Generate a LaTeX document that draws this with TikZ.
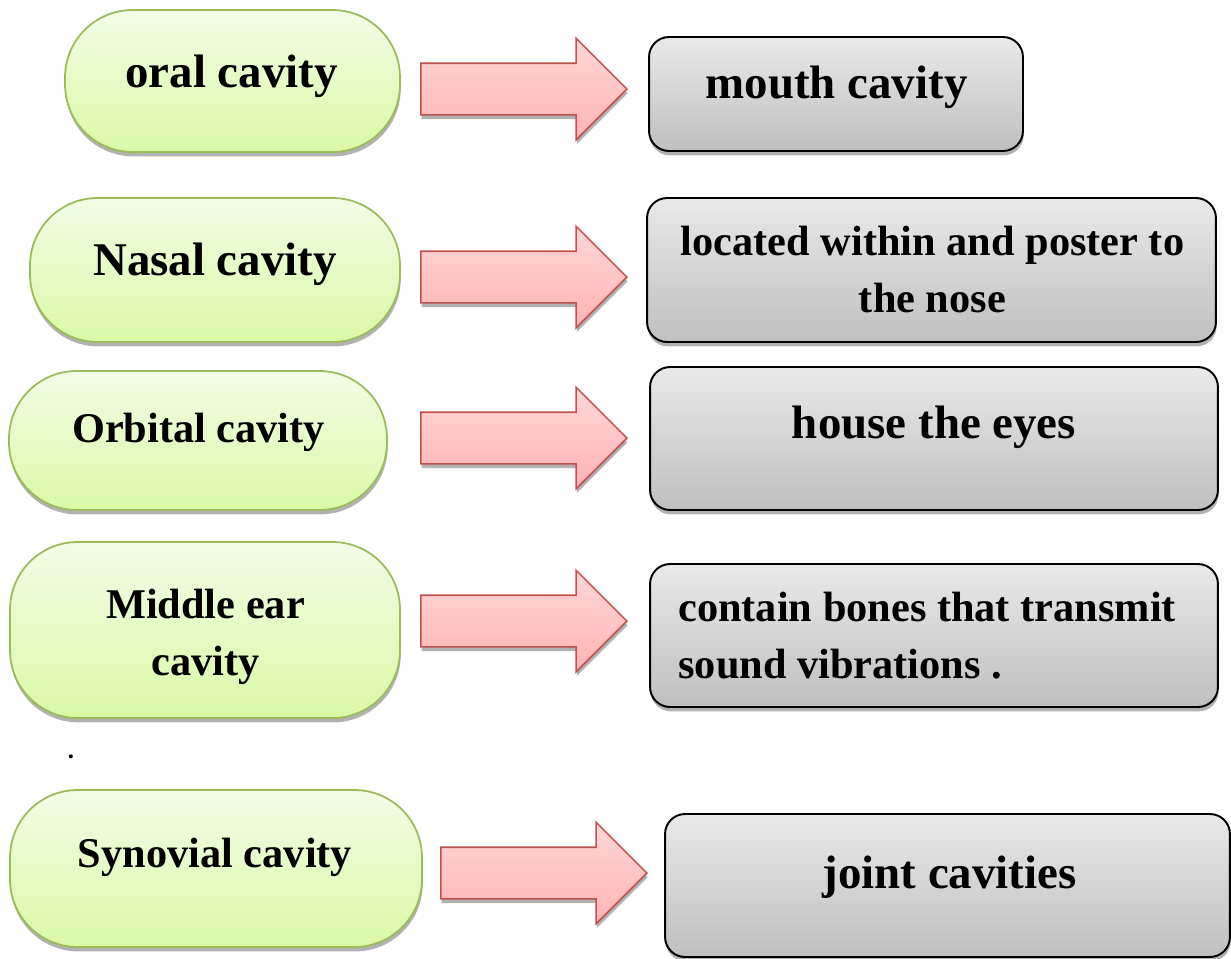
\documentclass[tikz,border=0pt]{standalone}
\usepackage{fontspec}
\setmainfont{Liberation Serif}
\usepackage{xcolor}
\usetikzlibrary{shapes.arrows,shadows}

\definecolor{cavtop}{HTML}{F3FCE6}
\definecolor{cavbot}{HTML}{D9F9A6}
\definecolor{cavline}{HTML}{9BBB59}
\definecolor{arrtop}{HTML}{FFD6D6}
\definecolor{arrbot}{HTML}{FFB3B3}
\definecolor{arrline}{HTML}{C0504D}
\definecolor{desctop}{HTML}{E9E9E9}
\definecolor{descbot}{HTML}{BFBFBF}

\begin{document}
\begin{tikzpicture}[
    x=0.02cm, y=-0.02cm,
    shade/.style={drop shadow={shadow xshift=0.4pt, shadow yshift=-2.5pt,
                  opacity=0.3, fill=black}},
    cavbox/.style={draw=cavline, line width=1pt, rounded corners=1.35cm,
                   top color=cavtop, bottom color=cavbot, shade},
    descbox/.style={draw=black, line width=1.1pt, rounded corners=0.4cm,
                    top color=desctop, bottom color=descbot, shade},
    blockarr/.style={single arrow, draw=arrline, line width=0.9pt,
                     top color=arrtop, bottom color=arrbot, shade,
                     inner xsep=0pt, inner ysep=0.5cm,
                     minimum height=4.12cm, single arrow head extend=0.5cm,
                     single arrow head indent=0pt, anchor=tip},
    bigtxt/.style={font=\fontsize{26.7}{32.4}\selectfont\bfseries,
                   inner sep=0pt, anchor=base, align=center},
    smalltxt/.style={font=\fontsize{24.1}{32.4}\selectfont\bfseries,
                     inner sep=0pt, anchor=base, align=center}
  ]
    \useasboundingbox (0,0) rectangle (1231,958);

    % left column
    \node[cavbox, minimum width=6.7cm, minimum height=2.84cm] (oral) at (232.5,81) {};
    \node[cavbox, minimum width=7.4cm, minimum height=2.88cm] (nasal) at (215,270) {};
    \node[cavbox, minimum width=7.56cm, minimum height=2.78cm] (orbital) at (198,440.5) {};
    \node[cavbox, minimum width=7.8cm, minimum height=3.52cm] (middle) at (205,630) {};
    \node[cavbox, minimum width=8.24cm, minimum height=3.14cm] (synovial) at (216,868.5) {};

    % (base of a two-line node is its last line)
    \node[bigtxt] (oral-t) at (231.5,87) {oral cavity};
    \node[bigtxt] (nasal-t) at (215,275) {Nasal cavity};
    \node[smalltxt] (orbital-t) at (198.5,442) {Orbital cavity};
    \node[smalltxt] (middle-t) at (205.5,675) {Middle ear\\cavity};
    \node[smalltxt] (synovial-t) at (215,867) {Synovial cavity};
    \node[font=\fontsize{14}{16}\selectfont\bfseries, inner sep=0pt, anchor=base] (dot) at (71,758) {.};

    % right column
    \node[descbox, minimum width=7.48cm, minimum height=2.28cm] (mouth) at (836,94) {};
    \node[descbox, minimum width=11.38cm, minimum height=2.88cm] (located) at (931.5,270) {};
    \node[descbox, minimum width=11.36cm, minimum height=2.86cm] (house) at (934,438.5) {};
    \node[descbox, minimum width=11.36cm, minimum height=2.86cm] (contain) at (934,635.5) {};
    \node[descbox, minimum width=11.3cm, minimum height=2.86cm] (joint) at (947.5,885.5) {};

    \node[bigtxt] (mouth-t) at (836.5,98) {mouth cavity};
    \node[smalltxt] (located-t) at (932.5,312) {located within and poster to\\the nose};
    \node[bigtxt] (house-t) at (934,438) {house the eyes};
    \node[smalltxt, anchor=base west, align=left] (contain-t) at (678,678)
        {contain bones that transmit\\sound vibrations .};
    \node[bigtxt] (joint-t) at (949.5,888) {joint cavities};

    % block arrows
    \node[blockarr] (a1) at (628,89) {};
    \node[blockarr] (a2) at (628,277) {};
    \node[blockarr] (a3) at (628,438) {};
    \node[blockarr] (a4) at (628,621) {};
    \node[blockarr] (a5) at (648,873) {};
\end{tikzpicture}
\end{document}
